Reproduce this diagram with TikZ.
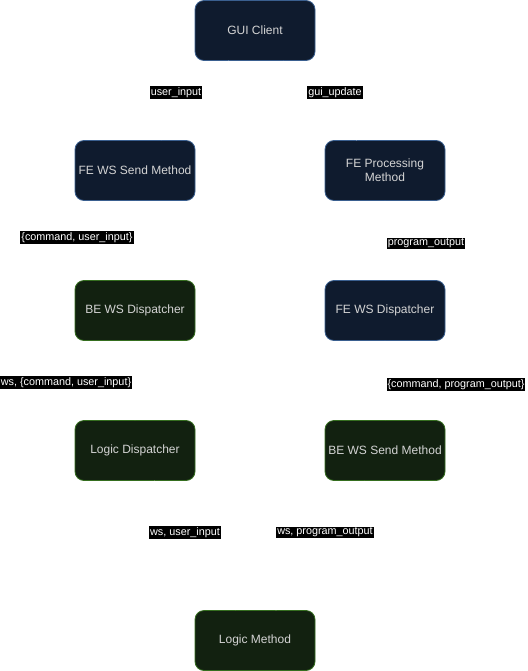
\documentclass[tikz,border=0pt]{standalone}
\usepackage{fontspec}
\setmainfont{Liberation Sans}
\usetikzlibrary{positioning,arrows.meta}
\tikzset{>=stealth}
\definecolor{feFill}{HTML}{0F1B2E}
\definecolor{feLine}{HTML}{3A5F8F}
\definecolor{beFill}{HTML}{122110}
\definecolor{beLine}{HTML}{356E1F}
\definecolor{boxText}{HTML}{D4D4D4}
\tikzset{
  fe/.style={draw=feLine,fill=feFill,text=boxText,rounded corners=9pt,line width=0.8pt,
    minimum width=120pt,minimum height=60pt,align=center,inner sep=1pt,font=\fontsize{12}{14}\selectfont},
  be/.style={fe,draw=beLine,fill=beFill},
  wire/.style={->,white,line width=0.8pt},
  tag/.style={fill=black,text=white,inner sep=1pt,yshift=-1.5pt,font=\fontsize{10.8}{12}\selectfont}
}

\begin{document}
\begin{tikzpicture}[x=1pt,y=-1pt]
\useasboundingbox (0,0) rectangle (527,671);
\node[fe] (gui) at (255,30.5) {GUI Client};
\node[fe] (fesend) at (135,170.5) {FE WS Send Method};
\node[fe] (feproc) at (385,170.5) {FE Processing\\Method};
\node[be] (bedisp) at (135,310.5) {BE WS Dispatcher};
\node[fe] (fedisp) at (385,310.5) {FE WS Dispatcher};
\node[be] (logdisp) at (135,450.5) {Logic Dispatcher};
\node[be] (besend) at (385,450.5) {BE WS Send Method};
\node[be] (logmeth) at (255,640.5) {Logic Method};
% connectors (white, as in the original)
\draw[wire] (gui) -- (fesend);
\draw[wire] (fesend) -- (bedisp);
\draw[wire] (bedisp) -- (logdisp);
\draw[wire] (logdisp) -- (logmeth);
\draw[wire] (logmeth) -- (besend);
\draw[wire] (besend) -- (fedisp);
\draw[wire] (fedisp) -- (feproc);
\draw[wire] (feproc) -- (gui);
% labels
\node[tag] (t1) at (176,91) {user\_input};
\node[tag] (t2) at (335,91) {gui\_update};
\node[tag] (t3) at (77,236) {\{command, user\_input\}};
\node[tag] (t4) at (426,242) {program\_output};
\node[tag] (t5) at (66,381) {ws, \{command, user\_input\}};
\node[tag] (t6) at (456,383) {\{command, program\_output\}};
\node[tag] (t7) at (185,531) {ws, user\_input};
\node[tag] (t8) at (325,531) {ws, program\_output};
\end{tikzpicture}
\end{document}
